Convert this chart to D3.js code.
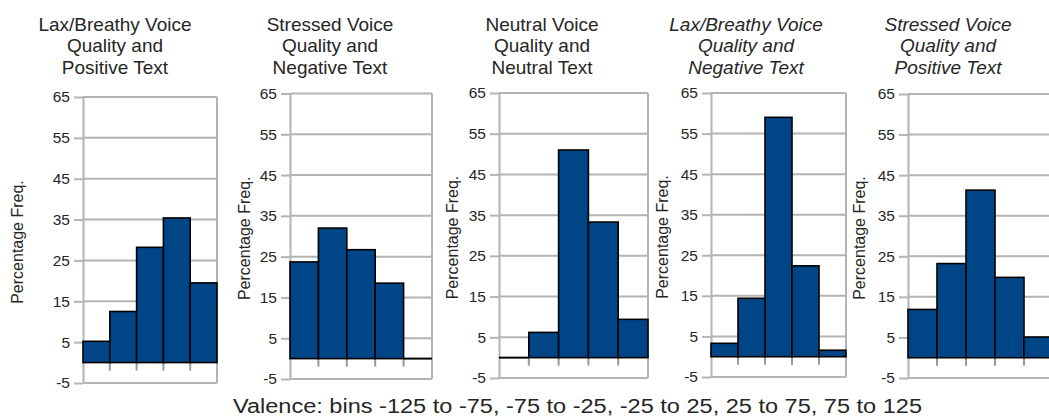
<!DOCTYPE html>
<html>
<head>
<meta charset="utf-8">
<script src="https://cdn.jsdelivr.net/npm/d3@7"></script>
<style>
  body { margin: 0; background: #fff; }
  text { font-family: "Liberation Sans", Arial, sans-serif; fill: #262626; }
</style>
</head>
<body>
<script>
// chart values
const titles = [
  ["Lax/Breathy Voice", "Quality and", "Positive Text"],
  ["Stressed Voice", "Quality and", "Negative Text"],
  ["Neutral Voice", "Quality and", "Neutral Text"],
  ["Lax/Breathy Voice", "Quality and", "Negative Text"],
  ["Stressed Voice", "Quality and", "Positive Text"]
];
const italicTitle = [false, false, false, true, true];
const bins = ["-125 to -75", "-75 to -25", "-25 to 25", "25 to 75", "75 to 125"];
const laxPositive = [5.2, 12.5, 28.2, 35.4, 19.5];
const stressedNegative = [23.7, 32, 26.7, 18.5, 0];
const neutralNeutral = [0, 6.2, 51, 33.3, 9.4];
const laxNegative = [3.3, 14.4, 59, 22.4, 1.6];
const stressedPositive = [11.9, 23.2, 41.3, 19.8, 5.1];
const yTicks = [-5, 5, 15, 25, 35, 45, 55, 65];
const yLabel = "Percentage Freq.";
const xLabel = "Valence: bins -125 to -75, -75 to -25, -25 to 25, 25 to 75, 75 to 125";

const series = [laxPositive, stressedNegative, neutralNeutral, laxNegative, stressedPositive];

// where each small chart sits on the page
const layout = [
  {left: 83,  right: 217,  top: 97,   bottom: 383, titleX: 115, labelX: 23},
  {left: 290, right: 432,  top: 93.5, bottom: 379, titleX: 330, labelX: 250},
  {left: 499, right: 648,  top: 93,   bottom: 378, titleX: 542, labelX: 458},
  {left: 711, right: 846,  top: 93,   bottom: 377, titleX: 746, labelX: 668},
  {left: 908, right: 1053, top: 94,   bottom: 378, titleX: 948, labelX: 865}
];

const gridColor = "#b4b4b4";
const barColor = "#004586";

var svg = d3.select("body").append("svg")
  .attr("width", 1049)
  .attr("height", 420);

series.forEach(function(values, i) {
  var p = layout[i];
  var x = d3.scaleBand().domain(bins).range([p.left, p.right]).padding(0);
  var y = d3.scaleLinear().domain([-5, 65]).range([p.bottom, p.top]);
  var g = svg.append("g");

  // horizontal grid
  g.selectAll(".grid").data(yTicks).enter().append("line")
    .attr("x1", p.left)
    .attr("x2", p.right)
    .attr("y1", d => y(d))
    .attr("y2", d => y(d))
    .attr("stroke", gridColor)
    .attr("stroke-width", 2);

  // right border
  g.append("line")
    .attr("x1", p.right).attr("x2", p.right)
    .attr("y1", p.top).attr("y2", p.bottom)
    .attr("stroke", gridColor)
    .attr("stroke-width", 2);

  // y axis
  var axis = g.append("g")
    .attr("transform", "translate(" + p.left + ",0)")
    .call(d3.axisLeft(y).tickValues(yTicks).tickFormat(d => String(d))
      .tickSize(9).tickSizeOuter(0).tickPadding(4));
  axis.attr("font-size", null).attr("font-family", null);
  axis.select(".domain").attr("stroke", gridColor).attr("stroke-width", 2);
  axis.selectAll(".tick line").attr("stroke", gridColor).attr("stroke-width", 2);
  axis.selectAll(".tick text")
    .attr("fill", "#262626")
    .style("font-size", "15.5px");

  // x ticks at bin boundaries
  g.selectAll(".xtick").data(bins.slice(1)).enter().append("line")
    .attr("x1", d => x(d))
    .attr("x2", d => x(d))
    .attr("y1", y(0))
    .attr("y2", y(0) + 8)
    .attr("stroke", "#999")
    .attr("stroke-width", 2);

  // bars
  values.forEach(function(v, j) {
    if (v === 0) {
      g.append("line")
        .attr("x1", x(bins[j]))
        .attr("x2", x(bins[j]) + x.bandwidth())
        .attr("y1", y(0))
        .attr("y2", y(0))
        .attr("stroke", "#000")
        .attr("stroke-width", 2);
    } else {
      g.append("rect")
        .attr("x", x(bins[j]))
        .attr("y", y(v))
        .attr("width", x.bandwidth())
        .attr("height", y(0) - y(v))
        .attr("fill", barColor)
        .attr("stroke", "#000")
        .attr("stroke-width", 1.6);
    }
  });

  // y label
  g.append("text")
    .attr("transform", "translate(" + p.labelX + "," + ((p.top + p.bottom) / 2 + 2) + ") rotate(-90)")
    .attr("text-anchor", "middle")
    .style("font-size", "16px")
    .text(yLabel);

  // title
  titles[i].forEach(function(line, k) {
    g.append("text")
      .attr("x", p.titleX)
      .attr("y", 30.5 + k * 21.5)
      .attr("text-anchor", "middle")
      .style("font-size", "19px")
      .style("font-style", italicTitle[i] ? "italic" : "normal")
      .text(line);
  });
});

svg.append("text")
  .attr("x", 233)
  .attr("y", 413)
  .attr("textLength", 689)
  .attr("lengthAdjust", "spacingAndGlyphs")
  .style("font-size", "20px")
  .text(xLabel);
</script>
</body>
</html>
